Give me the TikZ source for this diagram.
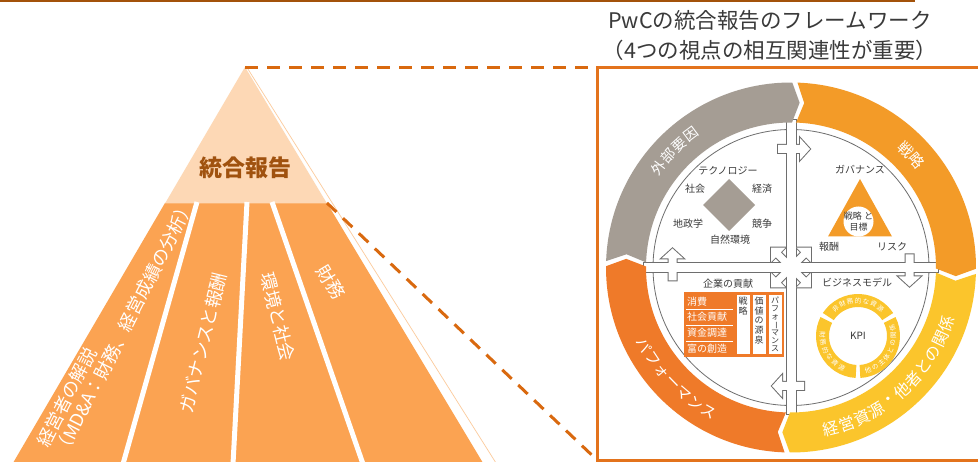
\documentclass[tikz,border=0pt]{standalone}
\usepackage{fontspec}
\setmainfont{Noto Sans CJK JP}
\usepackage{graphicx}
\definecolor{topline}{HTML}{A3520A}
\definecolor{peach}{HTML}{FDD8B5}
\definecolor{pyor}{HTML}{FBA352}
\definecolor{brownt}{HTML}{A0520F}
\definecolor{dashor}{HTML}{D9690F}
\definecolor{frameor}{HTML}{E3731C}
\definecolor{ringgray}{HTML}{A59D94}
\definecolor{ringor}{HTML}{F39B28}
\definecolor{ringyel}{HTML}{FBC52C}
\definecolor{ringdk}{HTML}{EF7A29}
\definecolor{linegray}{HTML}{6E6E6E}
\definecolor{txtgray}{HTML}{3A3A3A}
\newcommand\ringgap{0.8}
\newcommand\ringtip{2.6}
\newcommand\ringseg[3]{%
  \fill[#3] ({#1-\ringgap}:185) arc[start angle={#1-\ringgap}, end angle={#2+\ringgap}, radius=185]
   -- ({#2+\ringgap-\ringtip}:165) -- ({#2+\ringgap}:145)
   arc[start angle={#2+\ringgap}, end angle={#1-\ringgap}, radius=145]
   -- ({#1-\ringgap-\ringtip}:165) -- cycle;}
\newcommand\crossunion[1]{%
  \path[#1] (-4.5,-147) rectangle (4.5,147);
  \path[#1] (-147,-4.5) rectangle (147,4.5);
  \foreach \ang in {0,-90,-180,-270}{%
    \path[#1,rotate=\ang] (-13,114.5) -- (9,114.5) -- (9,107.5) -- (19,118.5) -- (9,129.5) -- (9,122.5) -- (-13,122.5) -- cycle;}
  \foreach \ang in {45,135,225,315}{%
    \path[#1,rotate=\ang] (0,-3.5) -- (18,-3.5) -- (18,-10) -- (28,0) -- (18,10) -- (18,3.5) -- (0,3.5) -- cycle;}
}
\begin{document}
\begin{tikzpicture}[x=1pt,y=1pt,
  inlab/.style={font=\fontsize{10}{11}\selectfont, text=txtgray, inner sep=0pt},
  pyrlab/.style={font=\fontsize{18}{20}\selectfont, text=white, inner sep=0pt},
  ringlab/.style={text=white, inner sep=0pt},
  dashlink/.style={dashor, line width=3, dash pattern=on 13pt off 9pt},
  rowlab/.style={anchor=west, font=\fontsize{10}{11}\selectfont, text=white, inner sep=0pt},
  collab/.style={anchor=north, align=center, text=txtgray, inner sep=0pt},
 ]
\useasboundingbox (0,0) rectangle (978,-462);
\fill[white] (0,0) rectangle (978,-462);

% top rule
\draw[topline, line width=2.5] (0,-1.2) -- (915,-1.2);

% pyramid
\fill[pyor] (165,-203) -- (327,-203) -- (483,-463) -- (13,-463) -- cycle;
\fill[peach] (245,-67) -- (165,-203.5) -- (327,-203.5) -- cycle;
\draw[peach!75!pyor, line width=0.7] (246,-66) -- (496,-463);
\foreach \a/\b in {197/123, 247/233, 272/363} \draw[white, line width=5] (\a,-202) -- (\b,-464);

\node[font=\bfseries\fontsize{23}{25}\selectfont, text=brownt] (tougou) at (245,-168) {統合報告};
\node[pyrlab, rotate=63, anchor=west, align=left] (mda) at (51,-450.5) {経営者の解説\\（MD\&A：財務、経営成績の分析）};
\node[pyrlab, rotate=76] (gov) at (203,-343) {ガバナンスと報酬};
\node[pyrlab, rotate=-76] (env) at (278,-317) {環境と社会};
\node[pyrlab, rotate=-59] (fin) at (331,-282) {財務};

% frame and zoom links
\draw[frameor, line width=3] (597,-68) rectangle (992,-460);
\coordinate (apex) at (245,-68);
\coordinate (pcorner) at (327,-203);
\coordinate (ftl) at (597,-68);
\coordinate (fbl) at (597,-460);
\draw[dashlink] (apex) -- (ftl);
\draw[dashlink] (pcorner) -- (fbl);

% title
\node[font=\fontsize{21.5}{24}\selectfont, text=txtgray] (t1) at (770,-20) {PwCの統合報告のフレームワーク};
\node[font=\fontsize{21.5}{24}\selectfont, text=txtgray] (t2) at (770,-50) {（4つの視点の相互関連性が重要）};

% circle diagram
\begin{scope}[shift={(791,-267.5)}]
  \draw[linegray, line width=0.8] (0,0) circle[radius=138];
  \crossunion{draw=linegray, line width=2}
  \crossunion{fill=white}
  \ringseg{178.8}{88.8}{ringgray}
  \ringseg{88.8}{-1.2}{ringor}
  \ringseg{-1.2}{-91.2}{ringyel}
  \ringseg{-91.2}{-181.2}{ringdk}
  \foreach \chr [count=\i from 0] in {外,部,要,因}
    \node[ringlab, font=\fontsize{14}{14}\selectfont, rotate={45+(1.5-\i)*5.4}] (gai\i) at ({135+(1.5-\i)*5.4}:166) {\chr};
  \foreach \chr [count=\i from 0] in {戦,略}
    \node[ringlab, font=\fontsize{15}{15}\selectfont, rotate={-47+(0.5-\i)*5.6}] (sen\i) at ({43+(0.5-\i)*5.6}:165) {\chr};
  \foreach \chr [count=\i from 0] in {経,営,資,源,・,他,者,と,の,関,係}
    \node[ringlab, font=\fontsize{16}{16}\selectfont, rotate={14+\i*5.6}] (kei\i) at ({-76+\i*5.6}:166) {\chr};
  \foreach \chr [count=\i from 0] in {パ,フ,ォ,ー,マ,ン,ス}
    \node[ringlab, font=\fontsize{15}{15}\selectfont, rotate={298+\i*5.4}] (per\i) at ({208+\i*5.4}:166) {\chr};
\end{scope}

% top-left quadrant
\fill[ringgray] (729,-179) -- (755,-205) -- (729,-231) -- (703,-205) -- cycle;
\node[inlab] (tech) at (728,-171) {テクノロジー};
\node[inlab] (soc) at (695,-189) {社会};
\node[inlab] (eco) at (762,-189) {経済};
\node[inlab] (geo) at (688,-224) {地政学};
\node[inlab] (comp) at (762,-224) {競争};
\node[inlab] (nat) at (730,-240) {自然環境};

% top-right quadrant
\fill[ringor] (860,-179) -- (892,-236.5) -- (828,-236.5) -- cycle;
\fill[white] (858.5,-221.5) circle[radius=15];
\node[align=center, font=\fontsize{9}{11}\selectfont, text=txtgray, inner sep=0pt] (goal) at (858.5,-221.5) {戦略 と\\目標};
\node[inlab] (govq) at (860,-170) {ガバナンス};
\node[inlab] (rem) at (829,-247) {報酬};
\node[inlab] (risk) at (892,-247) {リスク};

% bottom-left quadrant
\node[inlab] (contrib) at (728,-284) {企業の貢献};
\fill[ringdk] (684,-292) rectangle (784,-357);
\foreach \x in {736.5, 752.5, 768.5} \fill[white] (\x,-295) rectangle ++(13,-59);
\node[rowlab] (row1) at (687,-301.5) {消費};
\node[rowlab] (row2) at (687,-317) {社会貢献};
\node[rowlab] (row3) at (687,-333) {資金調達};
\node[rowlab] (row4) at (687,-348.5) {富の創造};
\foreach \y in {309.5, 325, 341} \draw[white, line width=0.8] (686,-\y) -- (732.5,-\y);
\node[collab, font=\fontsize{9}{9.6}\selectfont] (col1) at (743,-297) {戦\\略};
\node[collab, font=\fontsize{9}{9.6}\selectfont] (col2) at (759,-297) {価\\値\\の\\源\\泉};
\node[collab, font=\fontsize{8}{8}\selectfont] (col3) at (775,-296.5) {パ\\フ\\ォ\\\rotatebox[origin=c]{-90}{ー}\\マ\\ン\\ス};

% bottom-right quadrant
\node[inlab] (bm) at (857,-283) {ビジネスモデル};
\begin{scope}[shift={(858,-336)}]
  \foreach \s/\e in {146.8/33.2, 26.8/-86.8, 266.8/153.2}
    \fill[ringyel] (\s:42) arc[start angle=\s, end angle=\e, radius=42] -- (\e:29) arc[start angle=\e, end angle=\s, radius=29] -- cycle;
  \foreach \chr [count=\i from 0] in {非,財,務,的,な,資,源}
    \node[ringlab, font=\fontsize{6.5}{6.5}\selectfont, rotate={(3-\i)*13}] (ya\i) at ({90+(3-\i)*13}:35.5) {\chr};
  \foreach \chr [count=\i from 0] in {他,の,主,体,と,の,関,係}
    \node[ringlab, font=\fontsize{6.5}{6.5}\selectfont, rotate={60+(\i-3.5)*12.5}] (yb\i) at ({-30+(\i-3.5)*12.5}:35.5) {\chr};
  \foreach \chr [count=\i from 0] in {財,務,的,な,資,源}
    \node[ringlab, font=\fontsize{6.5}{6.5}\selectfont, rotate={300+(\i-2.5)*13}] (yc\i) at ({210+(\i-2.5)*13}:35.5) {\chr};
  \node[font=\fontsize{10}{11}\selectfont, text=txtgray] (kpi) at (0,0) {KPI};
\end{scope}
\end{tikzpicture}
\end{document}
